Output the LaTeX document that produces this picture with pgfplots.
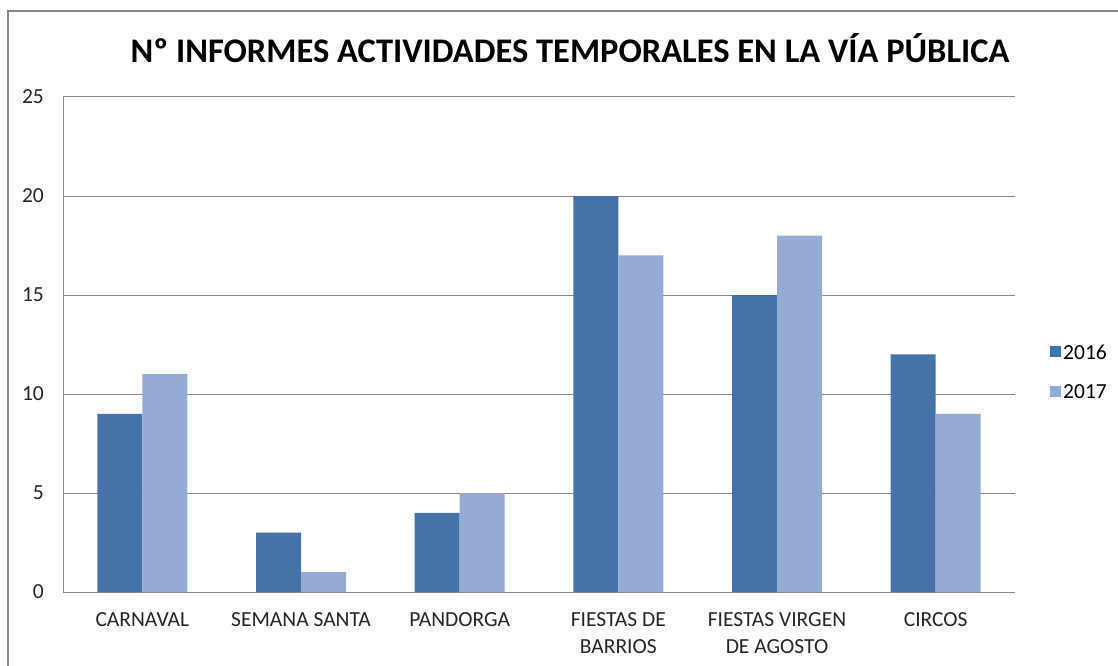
\documentclass[border=0pt]{standalone}
\usepackage{pgfplots}
\pgfplotsset{compat=1.18}
\usepackage{fontspec}
\setmainfont{Carlito}
\definecolor{cA}{HTML}{4572A7}
\definecolor{cB}{HTML}{95ABD3}
\definecolor{gridc}{HTML}{878787}
\begin{document}
\begin{tikzpicture}[x=1pt,y=1pt]
\useasboundingbox (0,0) rectangle (1118,665);
\draw[gridc,line width=2pt] (8,-5) -- (8,654) -- (1125,654);
\node[font=\bfseries\fontsize{34.5}{40}\selectfont] at (570,617) {Nº INFORMES ACTIVIDADES TEMPORALES EN LA VÍA PÚBLICA};
\begin{axis}[
  at={(63pt,73pt)}, anchor=south west,
  scale only axis, width=952pt, height=495pt,
  xmin=-0.5, xmax=5.5, ymin=0, ymax=25,
  ytick={0,5,...,25},
  xtick={0,...,5},
  xticklabels={CARNAVAL,SEMANA SANTA,PANDORGA,{FIESTAS DE\\BARRIOS},{FIESTAS VIRGEN\\DE AGOSTO},CIRCOS},
  axis x line*=bottom, axis y line*=left,
  axis line style={gridc, line width=1pt},
  x axis line style={-}, y axis line style={-},
  major tick length=0pt,
  ymajorgrids, grid style={gridc, line width=1pt},
  /pgf/number format/assume math mode=true,
  ticklabel style={font=\fontsize{21.5}{27}\selectfont, text=black!85},
  yticklabel style={anchor=east, inner sep=0pt, xshift=-19pt},
  xticklabel style={align=center, anchor=north, inner sep=0pt, yshift=-20pt},
  ybar=0pt, bar width=45pt,
  enlarge x limits=false,
  legend style={at={(1.0368,0.444)}, anchor=west, draw=none, fill=none,
    font=\fontsize{21.5}{24}\selectfont, row sep=20pt, inner sep=0pt,
    /tikz/every even column/.append style={column sep=0pt}},
  legend image code/.code={\fill[#1] (0pt,-5pt) rectangle (11pt,6pt);},
  legend cell align=left,
]
\addplot[fill=cA, draw=none] coordinates {(0,9) (1,3) (2,4) (3,20) (4,15) (5,12)};
\addplot[fill=cB, draw=none] coordinates {(0,11) (1,1) (2,5) (3,17) (4,18) (5,9)};
\legend{2016,2017}
\end{axis}
\end{tikzpicture}
\end{document}
